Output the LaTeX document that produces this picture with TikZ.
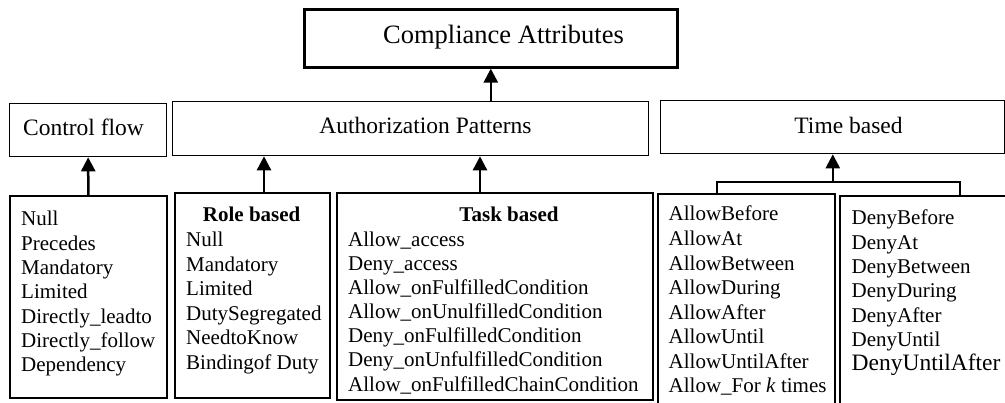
\documentclass[tikz,border=0pt]{standalone}
\usepackage{fontspec}
\setmainfont{Liberation Serif}
\usetikzlibrary{arrows.meta}
\begin{document}
\begin{tikzpicture}[x=1pt,y=-1pt,
  box/.style={draw,line width=1.3pt,rectangle,inner sep=0pt,anchor=north west},
  lbox/.style={draw,line width=1.7pt,rectangle,inner sep=0pt,anchor=north west},
  hd/.style={font=\fontsize{23.5}{28}\selectfont,anchor=base,inner sep=0pt},
  item/.style={font=\fontsize{21}{24}\selectfont,anchor=base west,inner sep=0pt},
  ihead/.style={font=\fontsize{21}{24}\selectfont\bfseries,anchor=base,inner sep=0pt},
  arr/.style={line width=2.5pt,-{Triangle[length=14pt,width=14pt]}},
  brk/.style={line width=2.5pt}]
\useasboundingbox (0,0) rectangle (1005,403);

% top level
\node[box,line width=2.6pt,minimum width=373pt,minimum height=58pt] (comp) at (303,8) {};
\node[hd,font=\fontsize{26.5}{30}\selectfont] (compt) at (503.5,44) {Compliance Attributes};

% second level
\node[box,minimum width=157pt,minimum height=53pt] (cf) at (9,103) {};
\node[hd] (cft) at (83.5,135.5) {Control flow};
\node[box,minimum width=476pt,minimum height=54pt] (auth) at (172,101) {};
\node[hd] (autht) at (425.5,134) {Authorization Patterns};
\node[box,minimum width=344.3pt,minimum height=53pt] (time) at (660,100) {};
\node[hd] (timet) at (848.5,133.3) {Time based};

% bottom boxes
\node[lbox,minimum width=157pt,minimum height=202pt] (cflist) at (9,195) {};
\node[lbox,minimum width=155pt,minimum height=205pt] (role) at (174,192) {};
\node[lbox,minimum width=316pt,minimum height=207pt] (task) at (336,192) {};
\node[lbox,minimum width=177pt,minimum height=220pt] (allow) at (657,193) {};
\node[lbox,minimum width=180pt,minimum height=220pt] (deny) at (839,195) {};

% lists
\foreach [count=\i from 0] \t in {Null,Precedes,Mandatory,Limited,Directly\_leadto,Directly\_follow,Dependency}
  \node[item] (cf\i) at (21,{226+24.3*\i}) {\t};

\node[ihead] (roleh) at (251.7,222) {Role based};
\foreach [count=\i from 0] \t in {Null,Mandatory,Limited,DutySegregated,NeedtoKnow,Bindingof Duty}
  \node[item] (ro\i) at (186,{247+24.5*\i}) {\t};

\node[ihead] (taskh) at (509,222) {Task based};
\foreach [count=\i from 0] \t in {Allow\_access,Deny\_access,Allow\_onFulfilledCondition,Allow\_onUnulfilledCondition,Deny\_onFulfilledCondition,Deny\_onUnfulfilledCondition,Allow\_onFulfilledChainCondition}
  \node[item] (ta\i) at (348,{246.5+24.1*\i}) {\t};

\foreach [count=\i from 0] \t in {AllowBefore,AllowAt,AllowBetween,AllowDuring,AllowAfter,AllowUntil,AllowUntilAfter,Allow\_For \textit{k} times}
  \node[item] (al\i) at (668.5,{221+24.57*\i}) {\t};

\foreach [count=\i from 0] \t in {DenyBefore,DenyAt,DenyBetween,DenyDuring,DenyAfter,DenyUntil}
  \node[item] (de\i) at (851.5,{225+24.3*\i}) {\t};
\node[item,font=\fontsize{23.5}{28}\selectfont] (de6) at (851.5,371) {DenyUntilAfter};

% connectors
\draw[arr] (auth.north -| comp.south) -- (comp.south);
\draw[arr] (cflist.north) -- (cf.south);
\draw[arr] ([xshift=90pt]role.north west) -- ([xshift=90pt]role.north west |- auth.south);
\draw[arr] ([xshift=144pt]task.north west) -- ([xshift=144pt]task.north west |- auth.south);
\coordinate (brkc) at (832,182);
\draw[brk] ([xshift=60pt]allow.north west) |- ([xshift=121pt]deny.north west |- brkc) -- ([xshift=121pt]deny.north west);
\draw[arr] (time.south |- brkc) -- (time.south);
\end{tikzpicture}
\end{document}
